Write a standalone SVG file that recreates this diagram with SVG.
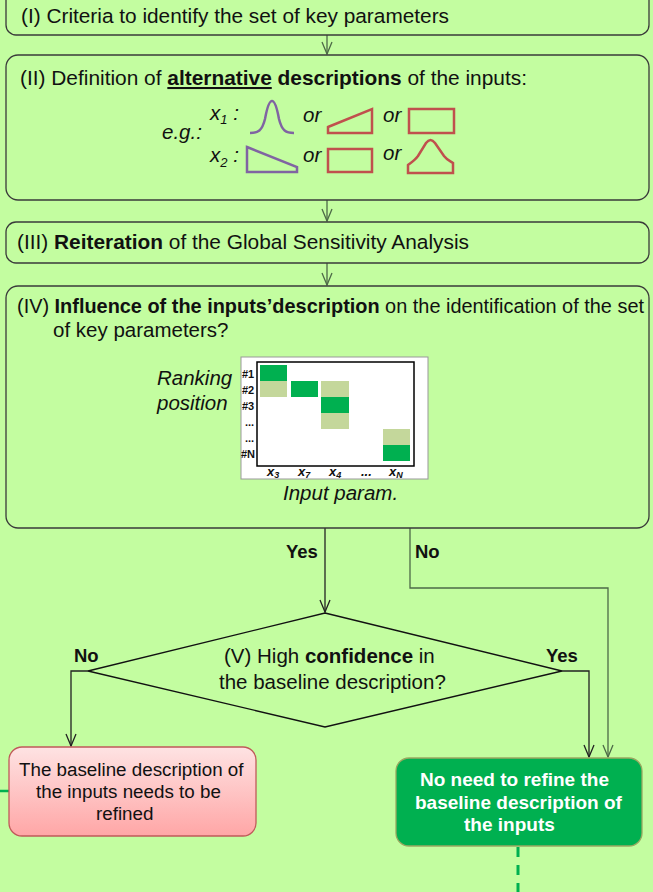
<svg xmlns="http://www.w3.org/2000/svg" width="653" height="892" viewBox="0 0 653 892">
<style>
  .t{font-family:"Liberation Sans",Arial,sans-serif;font-size:20.5px;fill:#111}
  .b{font-weight:bold}
  .i{font-style:italic}
  .box{fill:#c3fda0;stroke:#3a3a3a;stroke-width:1.3}
  .cg{fill:none;stroke:#4d6a47;stroke-width:1.3}
  .ck{fill:none;stroke:#222;stroke-width:1.3}
  .cp{fill:none;stroke:#8064a2;stroke-width:2.5}
  .cr{fill:none;stroke:#c0504d;stroke-width:2.5}
  .dk{fill:#00b050}
  .lt{fill:#c4d79b}
  .rl{font-family:"Liberation Sans",Arial,sans-serif;font-size:11px;font-weight:bold;fill:#111}
  .cl{font-family:"Liberation Sans",Arial,sans-serif;font-size:13px;font-weight:bold;font-style:italic;fill:#111}
</style>
<defs>
  <marker id="aG" viewBox="-14 -7 15 14" refX="0" refY="0" markerWidth="15" markerHeight="14" orient="auto" markerUnits="userSpaceOnUse">
    <path d="M-12,-5 L0,0 L-12,5" fill="none" stroke="#4d6a47" stroke-width="1.3"/>
  </marker>
  <marker id="aK" viewBox="-14 -7 15 14" refX="0" refY="0" markerWidth="15" markerHeight="14" orient="auto" markerUnits="userSpaceOnUse">
    <path d="M-12,-5 L0,0 L-12,5" fill="none" stroke="#222" stroke-width="1.3"/>
  </marker>
  <linearGradient id="pink" x1="0" y1="0" x2="0" y2="1">
    <stop offset="0" stop-color="#fee3e3"/>
    <stop offset="1" stop-color="#ffa6a6"/>
  </linearGradient>
</defs>
<rect x="0" y="0" width="653" height="892" fill="#c3fda0"/>

<g id="connectors">
  <line x1="327" y1="35" x2="327" y2="54" class="cg" marker-end="url(#aG)"/>
  <line x1="327" y1="200" x2="327" y2="221" class="cg" marker-end="url(#aG)"/>
  <line x1="327" y1="263" x2="327" y2="285" class="cg" marker-end="url(#aG)"/>
  <line x1="325" y1="528" x2="325" y2="612" class="ck" stroke="#444" marker-end="url(#aK)"/>
  <polyline points="410,528 410,588 608,588 608,757" class="cg" stroke="#5a6a58" marker-end="url(#aG)"/>
  <polyline points="88,671 71,671 71,746" class="ck" marker-end="url(#aK)"/>
  <polyline points="562,671 589,671 589,757" class="ck" marker-end="url(#aK)"/>
  <line x1="0" y1="791" x2="10" y2="791" stroke="#00b050" stroke-width="2.5"/>
  <line x1="518" y1="847" x2="518" y2="892" stroke="#00b050" stroke-width="3" stroke-dasharray="10 8"/>
  <text x="286" y="558" class="t b" style="font-size:18.5px">Yes</text>
  <text x="415" y="558" class="t b" style="font-size:18.5px">No</text>
  <text x="74" y="662" class="t b" style="font-size:18.5px">No</text>
  <text x="546" y="662" class="t b" style="font-size:18.5px">Yes</text>
</g>

<g id="step1">
  <rect x="6" y="-15" width="643" height="50" rx="10" class="box"/>
  <text x="21" y="23" class="t" textLength="428" lengthAdjust="spacingAndGlyphs">(I) Criteria to identify the set of key parameters</text>
</g>

<g id="step2">
  <rect x="6" y="55" width="643" height="145" rx="12" class="box"/>
  <text x="20" y="85" class="t" textLength="507" lengthAdjust="spacingAndGlyphs">(II) Definition of <tspan class="b" text-decoration="underline">alternative</tspan> <tspan class="b">descriptions</tspan> of the inputs:</text>
  <text x="162" y="139" class="t i">e.g.:</text>
  <text x="210" y="120" class="t i">x<tspan dy="4" style="font-size:13px">1</tspan><tspan dy="-4"> :</tspan></text>
  <text x="210" y="162" class="t i">x<tspan dy="5" style="font-size:13px">2</tspan><tspan dy="-5"> :</tspan></text>
  <path d="M250,133 C258,133 262,131 265,119 C267,108 269,101 272,101 C275,101 277,108 279,119 C282,131 286,133 294,133" class="cp"/>
  <text x="303" y="122" class="t i">or</text>
  <polygon points="328,127 372,109 372,133 328,133" class="cr"/>
  <text x="383" y="122" class="t i">or</text>
  <rect x="409" y="109" width="45" height="24" class="cr"/>
  <polygon points="247,147 297,167 297,172 247,172" class="cp"/>
  <text x="303" y="162" class="t i">or</text>
  <rect x="328" y="149" width="44" height="23" class="cr"/>
  <text x="383" y="160" class="t i">or</text>
  <path d="M408,173 L408,165 C412,162 415,160 418,156 L426,143 C429,139 432,139 435,143 L444,156 C447,160 450,161 453,163 L453,173 Z" class="cr"/>
</g>

<g id="step3">
  <rect x="6" y="222" width="643" height="41" rx="10" class="box"/>
  <text x="17" y="249" class="t" textLength="452" lengthAdjust="spacingAndGlyphs">(III) <tspan class="b">Reiteration</tspan> of the Global Sensitivity Analysis</text>
</g>

<g id="step4">
  <rect x="6" y="286" width="643" height="242" rx="12" class="box"/>
  <text x="17" y="313" class="t" textLength="627" lengthAdjust="spacingAndGlyphs">(IV) <tspan class="b">Influence of the inputs’description</tspan> on the identification of the set</text>
  <text x="53" y="337" class="t">of key parameters?</text>
  <text x="157" y="385" class="t i">Ranking</text>
  <text x="157" y="410" class="t i">position</text>
  <rect x="241" y="357" width="187" height="122" fill="#fff" stroke="#999" stroke-width="1"/>
  <rect x="257" y="362" width="157" height="104" fill="#fff" stroke="#000" stroke-width="1.5"/>
  <rect x="260" y="365" width="27" height="16" class="dk"/>
  <rect x="260" y="381" width="27" height="16" class="lt"/>
  <rect x="291" y="381" width="27" height="16" class="dk"/>
  <rect x="321" y="381" width="28" height="16" class="lt"/>
  <rect x="321" y="397" width="28" height="16" class="dk"/>
  <rect x="321" y="413" width="28" height="16" class="lt"/>
  <rect x="383" y="429" width="27" height="16" class="lt"/>
  <rect x="383" y="445" width="27" height="16" class="dk"/>
  <text x="242" y="378" class="rl">#1</text>
  <text x="242" y="394" class="rl">#2</text>
  <text x="242" y="410" class="rl">#3</text>
  <text x="245" y="426" class="rl">...</text>
  <text x="245" y="442" class="rl">...</text>
  <text x="241" y="458" class="rl">#N</text>
  <text x="267" y="476" class="cl">x<tspan dy="2" style="font-size:9px">3</tspan></text>
  <text x="298" y="476" class="cl">x<tspan dy="2" style="font-size:9px">7</tspan></text>
  <text x="329" y="476" class="cl">x<tspan dy="2" style="font-size:9px">4</tspan></text>
  <text x="361" y="476" class="cl">...</text>
  <text x="389" y="476" class="cl">x<tspan dy="2" style="font-size:9px">N</tspan></text>
  <text x="283" y="500" class="t i">Input param.</text>
</g>

<g id="decision">
  <polygon points="325,613 562,671 325,727 88,671" fill="none" stroke="#111" stroke-width="1.3"/>
  <text x="224" y="663" class="t">(V) High <tspan class="b">confidence</tspan> in</text>
  <text x="219" y="689" class="t">the baseline description?</text>
</g>

<g id="refine">
  <rect x="9" y="747" width="247" height="89" rx="13" fill="url(#pink)" stroke="#c05a5a" stroke-width="1.3"/>
  <text x="19" y="776" class="t" style="font-size:18.8px">The baseline description of</text>
  <text x="36" y="798" class="t" style="font-size:18.8px">the inputs needs to be</text>
  <text x="96" y="820" class="t" style="font-size:18.8px">refined</text>
</g>

<g id="norefine">
  <rect x="396" y="758" width="246" height="88" rx="13" fill="#00b050" stroke="#9aa860" stroke-width="1.3"/>
  <text x="420" y="786" class="t b" style="font-size:19px;fill:#fff">No need to refine the</text>
  <text x="415" y="809" class="t b" style="font-size:19px;fill:#fff">baseline description of</text>
  <text x="464" y="831" class="t b" style="font-size:19px;fill:#fff">the inputs</text>
</g>
</svg>
